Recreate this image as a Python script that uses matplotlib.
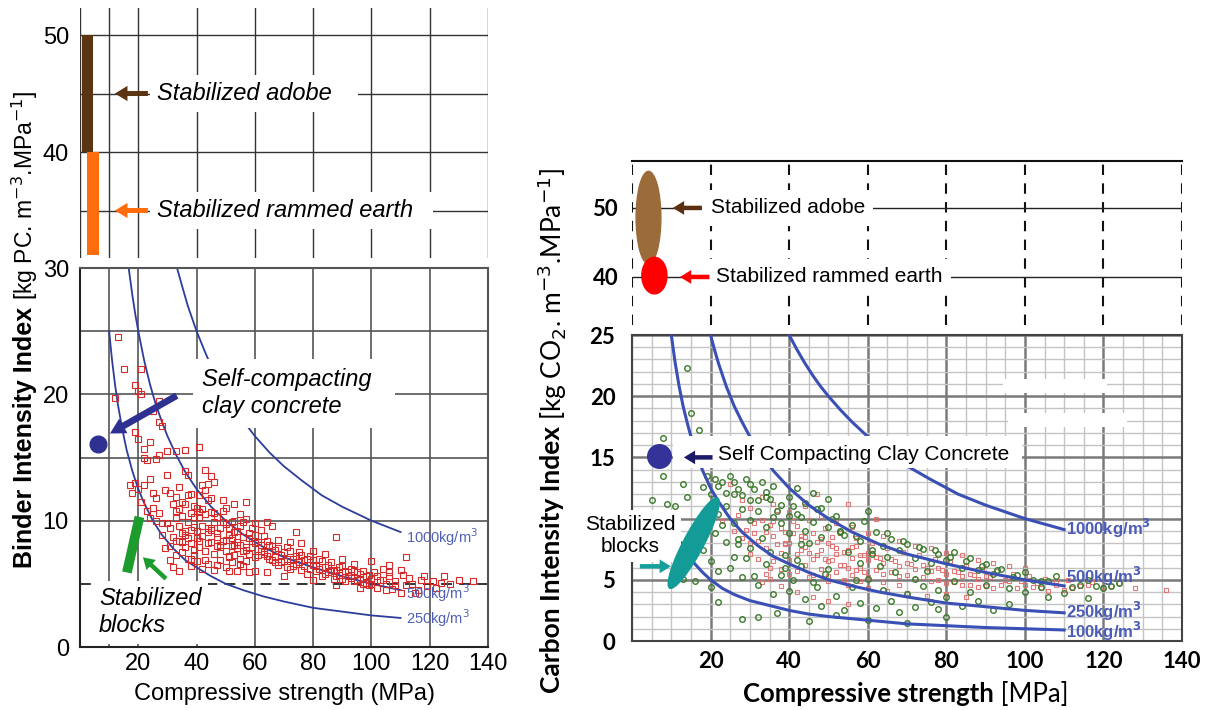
import matplotlib
matplotlib.use('Agg')
import matplotlib.pyplot as plt
from matplotlib.patches import Ellipse, Rectangle
from matplotlib.transforms import ScaledTranslation

plt.rcParams['font.family'] = ['Liberation Sans', 'DejaVu Sans']

# ---------------- data: left panel (binder intensity) ----------------
left_x = [13, 15, 12, 21, 19, 20, 21, 27, 25, 27, 19, 20, 22, 24, 22, 23, 27, 30, 33, 36,
          17, 18, 19, 20, 21, 22, 24, 25, 26, 23, 24, 27, 28, 29, 30, 31, 32, 33, 34, 35,
          36, 37, 38, 30, 31, 32, 33, 34, 35, 36, 37, 38, 39, 40, 41, 42, 43, 44, 45, 46,
          47, 48, 49, 50, 51, 52, 53, 54, 55, 56, 57, 58, 59, 60, 35, 36, 38, 39, 40, 41,
          42, 43, 44, 45, 46, 47, 48, 49, 50, 51, 52, 53, 54, 55, 56, 57, 58, 59, 60, 38,
          40, 42, 44, 46, 48, 50, 52, 54, 56, 58, 31, 33, 29, 32, 34, 61, 62, 63, 64, 65,
          66, 67, 68, 69, 70, 71, 72, 73, 74, 75, 76, 77, 78, 79, 80, 81, 82, 83, 84, 85,
          86, 87, 88, 89, 90, 91, 92, 93, 94, 95, 96, 97, 98, 99, 100, 101, 102, 103, 104, 105,
          106, 107, 108, 110, 112, 113, 115, 117, 119, 121, 124, 127, 135, 110, 96, 88, 80, 70, 64, 60,
          62, 66, 68, 72, 76, 80, 84, 90, 94, 100, 106, 112, 88, 74, 45, 44, 43, 41, 26, 28,
          37, 50, 55, 39, 42, 45, 47, 52, 57, 34, 36, 38, 41, 44, 47, 51, 53, 63, 67, 71]
left_y = [24.5, 22.0, 19.7, 22.0, 20.7, 20.3, 20.0, 19.5, 18.7, 17.8, 17.0, 16.5, 15.7, 16.2, 15.0, 14.8, 15.2, 15.5, 15.5, 15.6,
          12.8, 12.2, 13.0, 12.5, 11.5, 12.8, 13.3, 12.2, 11.8, 10.8, 10.2, 10.6, 9.8, 12.4, 13.6, 12.2, 11.3, 10.8, 12.7, 11.5,
          13.9, 13.6, 12.1, 9.8, 9.4, 8.7, 10.2, 9.6, 10.4, 8.9, 9.9, 10.6, 9.5, 11.0, 12.0, 12.8, 12.4, 11.6, 10.7, 9.9,
          10.3, 9.4, 10.8, 9.7, 8.9, 9.9, 9.1, 8.3, 9.6, 8.7, 10.1, 9.0, 8.4, 8.9, 7.5, 7.9, 8.2, 7.3, 8.6, 7.9,
          8.8, 7.6, 9.1, 8.3, 7.4, 8.7, 7.9, 8.4, 7.6, 7.1, 8.0, 7.3, 7.8, 7.0, 7.6, 6.8, 7.4, 7.9, 7.1, 6.4,
          6.8, 6.2, 6.6, 6.1, 6.9, 6.3, 6.7, 6.0, 6.4, 5.9, 6.9, 7.3, 7.8, 6.3, 6.0, 8.3, 7.6, 8.8, 7.2, 8.1,
          6.9, 7.7, 6.5, 7.3, 6.8, 7.9, 6.2, 7.0, 6.6, 7.5, 6.1, 6.9, 5.8, 7.2, 6.5, 6.0, 7.0, 5.6, 6.3, 5.9,
          6.7, 5.4, 6.1, 5.7, 6.4, 5.2, 5.9, 5.5, 6.0, 5.3, 5.8, 5.0, 5.6, 4.9, 5.4, 5.9, 4.7, 5.3, 6.2, 5.0,
          5.6, 4.6, 5.2, 6.1, 4.9, 5.5, 4.3, 5.3, 4.8, 5.2, 5.1, 5.0, 5.2, 4.3, 4.7, 4.9, 5.3, 5.6, 5.9, 6.0,
          9.3, 9.6, 8.5, 8.3, 8.2, 7.6, 7.4, 7.0, 6.6, 6.8, 6.5, 7.1, 8.7, 9.1, 13.5, 12.9, 14.0, 15.8, 14.9, 17.5,
          12.0, 11.0, 10.5, 11.2, 10.9, 9.3, 8.0, 8.6, 7.7, 8.4, 9.2, 7.0, 10.3, 9.4, 6.5, 7.2, 8.1, 7.4, 6.7, 6.3]
left_x_dense = [33, 34, 35, 36, 37, 38, 39, 40, 41, 42, 43, 44, 45, 46, 47, 48, 49, 50, 51, 52,
                53, 54, 55, 56, 57, 58, 59, 60, 61, 62, 63, 64, 65, 66, 67, 68, 69, 70, 71, 72,
                73, 74, 75, 76, 77, 78, 79, 80, 81, 82, 83, 84, 85, 86, 87, 88, 89, 90, 91, 92,
                93, 94, 95, 96, 97, 98, 99, 100, 102, 104, 106, 108, 111, 114, 118, 122, 125, 130, 116, 105,
                43, 47, 51, 55, 39, 37, 33, 35, 31, 28, 26, 25, 41, 45, 49, 53, 57, 46, 60, 64]
left_y_dense = [11.9, 10.9, 9.0, 11.3, 8.6, 9.3, 10.3, 9.2, 8.4, 9.6, 10.5, 8.2, 9.4, 10.6, 9.0, 8.1, 9.9, 8.5, 9.4, 8.5,
                10.0, 9.2, 8.1, 9.9, 7.9, 8.6, 9.4, 8.2, 7.3, 8.1, 7.5, 8.4, 7.0, 8.0, 7.1, 7.8, 6.7, 7.5, 7.0, 7.6,
                6.4, 7.2, 6.7, 7.3, 6.4, 7.0, 6.2, 6.9, 6.4, 6.2, 6.8, 5.8, 6.5, 6.1, 6.0, 5.6, 6.3, 5.4, 6.0, 5.6,
                6.2, 5.2, 5.9, 5.4, 6.0, 5.1, 5.7, 5.0, 5.6, 5.3, 5.9, 4.9, 5.7, 5.0, 5.6, 4.7, 5.6, 5.3, 4.5, 4.5,
                6.9, 6.5, 6.0, 6.6, 7.7, 7.0, 8.4, 8.3, 8.0, 8.9, 10.0, 11.0, 10.7, 11.8, 11.6, 11.3, 11.5, 13.1, 9.8, 9.9]

left_curves = {
    '250': ([10, 11, 12, 13, 14, 15, 16, 18, 20, 22, 25, 28, 32, 36, 40, 45, 50, 56, 63, 70, 80, 90, 100, 110],
            [25.0, 22.7, 20.8, 19.2, 17.9, 16.7, 15.6, 13.9, 12.5, 11.4, 10.0, 8.9, 7.8, 6.9, 6.3, 5.6, 5.0, 4.5, 4.0, 3.6, 3.1, 2.8, 2.5, 2.3]),
    '500': ([16.7, 18, 19, 20, 22, 24, 26, 28, 30, 33, 36, 40, 45, 50, 56, 63, 70, 80, 90, 100, 110],
            [30.0, 27.8, 26.3, 25.0, 22.7, 20.8, 19.2, 17.9, 16.7, 15.2, 13.9, 12.5, 11.1, 10.0, 8.9, 7.9, 7.1, 6.3, 5.6, 5.0, 4.5]),
    '1000': ([33.3, 35, 37, 40, 43, 46, 50, 55, 60, 65, 70, 76, 83, 90, 100, 110],
             [30.0, 28.6, 27.0, 25.0, 23.3, 21.7, 20.0, 18.2, 16.7, 15.4, 14.3, 13.2, 12.0, 11.1, 10.0, 9.1]),
}
left_curve_labels = ['1000kg/m$^3$', '500kg/m$^3$', '250kg/m$^3$']
left_label_y = [8.7, 4.3, 2.3]

left_bar_x0 = [0.6, 2.4]
left_bar_x1 = [4.4, 6.5]
left_bar_lo = [40, 31.2]
left_bar_hi = [50, 40]

# ---------------- data: right panel (carbon intensity) ----------------
green_x = [14, 15, 17, 8, 12, 8, 13, 5, 9, 14, 11, 19, 21, 18, 23, 25, 27, 29, 31, 33, 35, 36, 38, 40, 42, 44, 46, 48, 50,
           22, 24, 26, 28, 30, 32, 34, 36, 38, 40, 42, 44, 46, 48, 50, 52, 54, 56, 58, 60, 62, 64, 66, 68, 70, 72, 74,
           76, 78, 80, 82, 84, 86, 88, 90, 92, 94, 97, 100, 104, 108, 112, 116, 120, 124, 18, 20, 22, 24, 26, 28, 30,
           32, 34, 36, 38, 40, 42, 44, 46, 48, 50, 52, 54, 56, 58, 60, 62, 64, 66, 68, 70, 72, 74, 76, 78, 80, 84, 88,
           92, 96, 100, 106, 16, 13, 20, 22, 28, 32, 37, 45, 52, 60, 70, 80, 18, 21, 23, 26, 30, 34, 40, 45, 55, 58,
           63, 67, 75, 82, 90, 96, 104, 110, 116, 27, 33, 39, 43, 49, 53, 57, 61, 65, 72, 78, 86]
green_y = [22.3, 18.6, 17.2, 16.6, 15.0, 13.5, 12.8, 11.5, 11.2, 11.8, 11.0, 13.5, 13.2, 12.6, 13.0, 13.5, 12.4, 13.2, 12.4, 13.0, 11.6, 12.7, 11.1, 11.8, 12.5, 11.3, 12.1, 10.9, 11.6,
           10.4, 11.0, 9.6, 10.8, 9.9, 10.6, 9.3, 10.1, 9.6, 8.8, 10.4, 9.0, 9.7, 8.5, 9.3, 10.2, 8.7, 9.5, 8.2, 10.6, 8.9, 7.8, 8.3, 7.4, 7.9, 6.8, 7.5,
           6.4, 7.1, 6.6, 7.3, 6.0, 6.8, 5.8, 6.3, 5.5, 5.9, 5.2, 5.6, 4.9, 5.3, 4.4, 5.0, 4.3, 4.7, 7.4, 6.5, 5.7, 8.1, 6.9, 5.2, 7.6,
           4.6, 6.3, 3.8, 5.4, 4.1, 6.6, 3.4, 4.8, 2.9, 5.9, 3.7, 2.5, 4.4, 3.1, 5.1, 2.7, 4.2, 3.3, 2.4, 3.8, 2.8, 4.5, 3.2, 2.6, 3.6, 2.9, 3.3,
           2.5, 3.0, 4.0, 3.6, 4.9, 5.1, 4.4, 3.2, 1.8, 2.0, 2.3, 1.6, 2.1, 1.7, 1.5, 2.0, 9.2, 8.8, 9.5, 12.0, 11.5, 11.8, 10.2, 8.0, 7.3, 6.4,
           6.1, 5.6, 5.7, 4.9, 4.6, 4.3, 4.4, 3.9, 3.5, 7.9, 8.4, 7.0, 6.1, 5.5, 8.9, 5.0, 7.1, 6.9, 5.1, 4.2, 4.0]
green_x_dense = [20, 22, 24, 26, 28, 30, 32, 34, 37, 41, 43, 47, 51, 53, 57, 59, 61, 65, 69, 73,
                 77, 81, 85, 89, 93, 98, 102, 106, 114, 118, 122, 25, 27, 29, 31, 35, 39, 41, 43, 47]
green_y_dense = [12.0, 12.7, 12.1, 13.0, 11.9, 12.8, 11.5, 12.2, 10.6, 11.0, 10.1, 10.8, 10.0, 9.0, 8.6, 9.8, 7.4, 8.8, 8.2, 7.7,
                 7.4, 6.9, 6.5, 6.1, 5.8, 5.4, 5.0, 4.9, 4.6, 4.5, 4.5, 6.0, 8.3, 6.8, 5.3, 7.3, 6.0, 5.0, 7.9, 4.4]

red_x = [25, 28, 30, 33, 35, 37, 39, 41, 43, 45, 47, 49, 51, 53, 55, 57, 59, 61, 63, 65, 67, 69, 71, 73, 75, 77, 79,
         81, 83, 85, 87, 89, 91, 93, 95, 97, 99, 101, 103, 105, 108, 111, 114, 117, 120, 124, 128, 136, 32, 34, 36, 38,
         40, 42, 44, 46, 48, 50, 52, 54, 56, 58, 60, 62, 64, 66, 68, 70, 72, 74, 76, 78, 80, 82, 84, 86, 88, 90, 94,
         98, 102, 106, 110, 30, 35, 40, 45, 50, 55, 60, 65, 70, 75, 80, 85, 23, 26, 28, 31, 36, 40, 44, 48, 52, 56,
         60, 64, 68, 72, 76, 80, 84, 88, 92, 96, 100, 38, 42, 46, 50, 55, 35, 33, 62, 47, 55, 39, 43, 47, 51, 57, 61]
red_y = [12.8, 11.5, 10.9, 11.8, 9.5, 10.7, 8.9, 9.8, 8.6, 9.9, 8.1, 9.2, 7.8, 8.8, 7.4, 8.4, 7.0, 8.0, 6.8, 7.6, 6.5, 7.3, 6.3, 7.0, 6.0, 6.7, 5.8,
         6.5, 5.6, 6.2, 5.4, 5.9, 5.2, 5.7, 5.0, 5.5, 4.9, 5.3, 4.7, 5.1, 4.6, 5.0, 4.5, 4.8, 4.4, 4.7, 4.3, 4.2, 8.2, 7.6, 8.6, 7.2,
         8.0, 7.1, 7.7, 6.7, 7.4, 6.5, 7.1, 6.2, 6.8, 6.0, 6.6, 5.8, 6.4, 5.6, 6.1, 5.4, 5.9, 5.2, 5.7, 5.0, 5.5, 4.8, 5.3, 4.6, 5.1, 4.5, 4.6,
         4.3, 4.4, 4.1, 4.2, 7.1, 6.0, 5.5, 5.2, 4.9, 4.6, 4.3, 4.1, 3.9, 3.7, 3.8, 3.6, 9.8, 9.0, 8.4, 9.6, 11.2, 10.5, 11.0, 10.2, 9.6, 9.3,
         8.8, 8.6, 8.2, 7.8, 7.6, 7.2, 7.0, 6.6, 6.4, 6.1, 6.0, 4.5, 4.0, 3.6, 3.3, 3.0, 5.1, 4.8, 10.0, 12.0, 11.2, 7.9, 8.3, 7.0, 8.5, 7.8, 7.2]
red_x_dense = [27, 29, 31, 33, 34, 36, 37, 38, 39, 41, 42, 43, 44, 45, 46, 47, 48, 49, 50, 51,
               52, 53, 54, 55, 56, 57, 58, 59, 60, 62, 64, 66, 68, 70, 72, 74, 76, 78, 80, 82,
               84, 86, 88, 90, 92, 96, 100, 104, 108, 112, 116, 122, 30, 32, 34, 36, 38, 40, 42, 44,
               46, 48, 50, 52, 54, 56, 58, 60, 64, 68]
red_y_dense = [10.3, 9.1, 8.8, 9.9, 8.9, 9.8, 7.9, 9.2, 8.0, 8.8, 9.4, 7.4, 8.5, 7.2, 8.8, 7.0, 8.3, 6.7, 8.0, 6.6,
               7.6, 6.2, 7.3, 6.0, 7.7, 5.8, 7.0, 5.6, 7.2, 6.9, 5.5, 6.7, 5.3, 6.4, 5.1, 6.2, 4.9, 6.0, 4.7, 5.7,
               4.6, 5.5, 4.4, 5.3, 4.3, 4.9, 4.6, 4.3, 4.9, 4.3, 4.6, 4.5, 8.0, 6.7, 5.5, 6.5, 5.9, 6.6, 5.7, 6.2,
               5.4, 5.9, 5.3, 5.6, 5.0, 5.4, 4.9, 5.2, 4.8, 4.6]

right_curves = {
    '100': ([12.5, 14, 16, 18, 20, 23, 26, 30, 35, 40, 45, 50, 60, 70, 80, 90, 100, 110],
            [8.0, 7.1, 6.3, 5.6, 5.0, 4.3, 3.8, 3.3, 2.9, 2.5, 2.2, 2.0, 1.7, 1.4, 1.25, 1.1, 1.0, 0.9]),
    '250': ([10, 11, 12, 13, 14, 15, 16, 18, 20, 22, 25, 28, 32, 36, 40, 45, 50, 56, 63, 70, 80, 90, 100, 110],
            [25.0, 22.7, 20.8, 19.2, 17.9, 16.7, 15.6, 13.9, 12.5, 11.4, 10.0, 8.9, 7.8, 6.9, 6.3, 5.6, 5.0, 4.5, 4.0, 3.6, 3.1, 2.8, 2.5, 2.3]),
    '500': ([20, 21, 22, 24, 26, 28, 30, 33, 36, 40, 45, 50, 56, 63, 70, 80, 90, 100, 110],
            [25.0, 23.8, 22.7, 20.8, 19.2, 17.9, 16.7, 15.2, 13.9, 12.5, 11.1, 10.0, 8.9, 7.9, 7.1, 6.3, 5.6, 5.0, 4.5]),
    '1000': ([40, 42, 44, 46, 48, 50, 53, 56, 60, 65, 70, 76, 83, 90, 100, 110],
             [25.0, 23.8, 22.7, 21.7, 20.8, 20.0, 18.9, 17.9, 16.7, 15.4, 14.3, 13.2, 12.0, 11.1, 10.0, 9.1]),
}
right_curve_labels = ['1000kg/m$^\\mathbf{3}$', '500kg/m$^\\mathbf{3}$', '250kg/m$^\\mathbf{3}$', '100kg/m$^\\mathbf{3}$']
right_label_y = [9.2, 5.3, 2.45, 0.75]

xticks = [20, 40, 60, 80, 100, 120, 140]

# ---------------- figure ----------------
fig = plt.figure(figsize=(12.09, 7.10), dpi=100)
W, H = 1209, 710

def box(l, t, r, b):
    return [l / W, (H - b) / H, (r - l) / W, (b - t) / H]

axLU = fig.add_axes(box(80, 8, 488, 258))
axLL = fig.add_axes(box(80, 268, 488, 647))
axRU = fig.add_axes(box(632, 161, 1182, 325))
axRL = fig.add_axes(box(632, 335, 1182, 641))

def arrow(ax, tail, head, color, scale, hl=0.45, hw=0.55, tw=0.18):
    ax.annotate('', xy=head, xytext=tail, zorder=7,
                arrowprops=dict(arrowstyle='simple,head_length=%s,head_width=%s,tail_width=%s' % (hl, hw, tw),
                                fc=color, ec='none', shrinkA=0, shrinkB=0, mutation_scale=scale))

white_box = dict(fc='white', ec='none', pad=5)

# ---- left upper ----
ax = axLU
ax.set_xlim(0, 140)
ax.set_ylim(30.94, 52.31)
for s in ax.spines.values():
    s.set_visible(False)
for xv in [0, 10, 20, 40, 60, 80, 100, 120, 140]:
    ax.axvline(xv, color='#333333', lw=1, zorder=1)
ax.hlines([35, 40, 45, 50], 0, 140, color='#333333', lw=1, zorder=1)
ax.set_xticks([])
ax.set_yticks([40, 50])
ax.tick_params(axis='y', length=0, pad=8, labelsize=17)
bar_colors = ['#5b3413', '#ff6c0c']
for x0, x1, lo, hi, c in zip(left_bar_x0, left_bar_x1, left_bar_lo, left_bar_hi, bar_colors):
    ax.bar(x0, hi - lo, bottom=lo, width=x1 - x0, align='edge', color=c, zorder=3)
arrow(ax, (23.3, 45), (12, 45), '#5b3413', 20)
arrow(ax, (23.3, 35), (12, 35), '#ff6c0c', 20)
ax.text(26.3, 45, 'Stabilized adobe   ', style='italic', fontsize=17, va='center', bbox=white_box, zorder=4)
ax.text(26.3, 35, 'Stabilized rammed earth  ', style='italic', fontsize=17, va='center', bbox=white_box, zorder=4)

# ---- left lower ----
ax = axLL
ax.set_xlim(0, 140)
ax.set_ylim(0, 30)
for xv in [10, 20, 40, 60, 80, 100, 120]:
    ax.axvline(xv, color='#555555', lw=1.2, zorder=1)
for yv in [10, 15, 20, 25]:
    ax.axhline(yv, color='#555555', lw=1.2, zorder=1)
ax.axhline(5, color='#222222', lw=1.3, ls=(0, (6, 4)), zorder=1)
for s in ax.spines.values():
    s.set_linewidth(1.5)
    s.set_color('#222222')
    s.set_zorder(5)
ax.spines['top'].set_color('#555555')
ax.spines['right'].set_color('#555555')
ax.set_xticks(xticks)
ax.set_yticks([0, 10, 20, 30])
ax.tick_params(length=0, labelsize=17)
ax.tick_params(axis='x', pad=4)
ax.tick_params(axis='y', pad=8)
ax.plot(left_x, left_y, 's', ms=4.5, mfc='none', mec='#d42a2a', mew=0.8, zorder=3)
ax.plot(left_x_dense, left_y_dense, 's', ms=4.5, mfc='none', mec='#d42a2a', mew=0.8, zorder=3)
for key in ['250', '500', '1000']:
    cx, cy = left_curves[key]
    ax.plot(cx, cy, color='#2c3d9c', lw=1.3, zorder=2.5)
for lab, ly in zip(left_curve_labels, left_label_y):
    ax.text(112, ly, lab, fontsize=10.5, color='#5060b5', va='center', zorder=3)
ax.text(42, 20.1, 'Self-compacting  \nclay concrete', style='italic', fontsize=17, va='center',
        bbox=dict(fc='white', ec='none', pad=7), zorder=4)
arrow(ax, (33.2, 19.9), (10.3, 16.9), '#2e3192', 22, hl=0.5, hw=0.55, tw=0.22)
ax.plot([6.3], [16.1], 'o', ms=12, color='#2e3192', zorder=6)
ax.plot([16.1, 20.4], [5.9, 10.3], color='#1c9c2c', lw=7, solid_capstyle='butt', zorder=5)
arrow(ax, (29.5, 5.4), (21.6, 7.1), '#1c9c2c', 18)
ax.text(6.5, 2.75, 'Stabilized\nblocks', style='italic', fontsize=17, va='center',
        bbox=dict(fc='white', ec='none', pad=5), zorder=4)

fig.text(284 / W, (H - 694) / H, 'Compressive strength (MPa)', ha='center', va='center', fontsize=17)
fig.text(25 / W, (H - 300) / H, 'Binder Intensity Index ', rotation=90, rotation_mode='anchor',
         ha='right', va='center', fontsize=18, fontweight='bold')
fig.text(25 / W, (H - 300) / H, '[kg PC. m$^{-3}$.MPa$^{-1}$]', rotation=90, rotation_mode='anchor',
         ha='left', va='center', fontsize=16.5)

# ---- right upper ----
lato = ['Lato', 'DejaVu Sans']
ax = axRU
ax.set_xlim(0, 140)
ax.set_ylim(33.04, 56.8)
for k in ['left', 'right', 'bottom']:
    ax.spines[k].set_visible(False)
ax.spines['top'].set_linewidth(1.5)
ax.spines['top'].set_color('#111111')
for xv in [0, 20, 40, 60, 80, 100, 120, 140]:
    ax.axvline(xv, color='#111111', lw=1.5, ls=(0, (5, 4)), zorder=1)
ax.hlines([50, 40], 0, 140, color='#222222', lw=1, zorder=1)
ax.set_xticks([])
ax.set_yticks([40, 50])
ax.set_yticklabels(['40', '50'], fontfamily=lato, fontweight='bold', fontsize=16)
ax.tick_params(axis='y', length=0, pad=10)
ax.add_patch(Ellipse((4.2, 48.6), 6.3, 13.4, color='#9c6b3a', zorder=3))
ax.add_patch(Ellipse((5.7, 40.2), 6.4, 5.3, color='#ff0000', zorder=3))
arrow(ax, (17.8, 50), (10.4, 50), '#5a3010', 18)
arrow(ax, (19.7, 40), (12.2, 40), '#ff0000', 18)
ax.text(20, 50, 'Stabilized adobe', fontsize=15, va='center', bbox=dict(fc='white', ec='none', pad=6), zorder=4)
ax.text(21.5, 40, 'Stabilized rammed earth', fontsize=15, va='center', bbox=dict(fc='white', ec='none', pad=6), zorder=4)

# ---- right lower ----
ax = axRL
ax.set_xlim(0, 140)
ax.set_ylim(0, 25)
ax.set_xticks(xticks)
ax.set_xticklabels([str(v) for v in xticks], fontfamily=lato, fontweight='bold', fontsize=16)
ax.set_xticks(list(range(0, 141, 5)), minor=True)
ax.set_yticks([0, 5, 10, 15, 20, 25])
ax.set_yticklabels(['0', '5', '', '15', '20', '25'], fontfamily=lato, fontweight='bold', fontsize=16)
ax.set_yticks(list(range(0, 26)), minor=True)
ax.tick_params(which='both', length=0)
ax.tick_params(axis='x', pad=7)
ax.tick_params(axis='y', pad=12)
ax.grid(which='minor', color='#c4c4c4', lw=1.0, zorder=0)
ax.grid(which='major', color='#7a7a7a', lw=1.8, zorder=0)
ax.set_axisbelow(True)
for s in ax.spines.values():
    s.set_linewidth(1.5)
    s.set_color('#444444')
ax.add_patch(Rectangle((94.4, 20.3), 26.6, 1.1, fc='white', ec='none', zorder=1))
ax.add_patch(Rectangle((95.7, 17.5), 30.3, 1.1, fc='white', ec='none', zorder=1))
ax.plot(red_x, red_y, 's', ms=3.5, mfc='none', mec='#e26a6a', mew=0.8, alpha=0.9, zorder=2.8)
ax.plot(red_x_dense, red_y_dense, 's', ms=3.5, mfc='none', mec='#e26a6a', mew=0.8, alpha=0.9, zorder=2.8)
ax.plot(green_x, green_y, 'o', ms=4, mfc='none', mec='#3b7a2b', mew=1.0, zorder=3)
ax.plot(green_x_dense, green_y_dense, 'o', ms=4, mfc='none', mec='#3b7a2b', mew=1.0, zorder=3)
for key in ['100', '250', '500', '1000']:
    cx, cy = right_curves[key]
    ax.plot(cx, cy, color='#3a50b4', lw=2.2, zorder=3.5)
for lab, ly in zip(right_curve_labels, right_label_y):
    ax.text(110.5, ly, lab, fontsize=12, fontweight='bold', color='#4a5cb8', va='center', zorder=3.6)
ax.add_patch(Rectangle((10.4, 14.1), 88.8, 2.65, fc='white', ec='none', zorder=4))
ax.text(22, 15.2, 'Self Compacting Clay Concrete', fontsize=15, va='center', zorder=5)
arrow(ax, (20.5, 15), (13.2, 15), '#1b1b6b', 18)
ax.plot([6.8], [15.1], 'o', ms=17, color='#333399', zorder=6)
teal = Ellipse((0, 0), 1.02, 0.2, angle=62, color='#139c97', zorder=6,
               transform=fig.dpi_scale_trans + ScaledTranslation(15.7, 8.0, ax.transData))
ax.add_patch(teal)
ax.text(-0.4, 8.6, 'Stabilized\nblocks', fontsize=15, ha='center', va='center',
        bbox=dict(fc='white', ec='none', pad=4), zorder=5)
arrow(ax, (2.0, 6.1), (9.9, 6.1), '#17a09b', 18)
ax.set_xlim(0, 140)
ax.set_ylim(0, 25)

fig.text(994 / W, (H - 694) / H, 'Compressive strength', ha='right', va='center',
         fontsize=18.5, fontweight='bold', fontfamily=lato)
fig.text(994 / W, (H - 694) / H, ' [MPa]', ha='left', va='center', fontsize=18.5, fontfamily=lato)
fig.text(552 / W, (H - 420) / H, 'Carbon Intensity Index ', rotation=90, rotation_mode='anchor',
         ha='right', va='center', fontsize=19, fontweight='bold', fontfamily=lato)
fig.text(552 / W, (H - 420) / H, '[kg CO$_2$. m$^{-3}$.MPa$^{-1}$]', rotation=90, rotation_mode='anchor',
         ha='left', va='center', fontsize=19, fontfamily=lato)

fig.savefig('out.png', dpi=100)
